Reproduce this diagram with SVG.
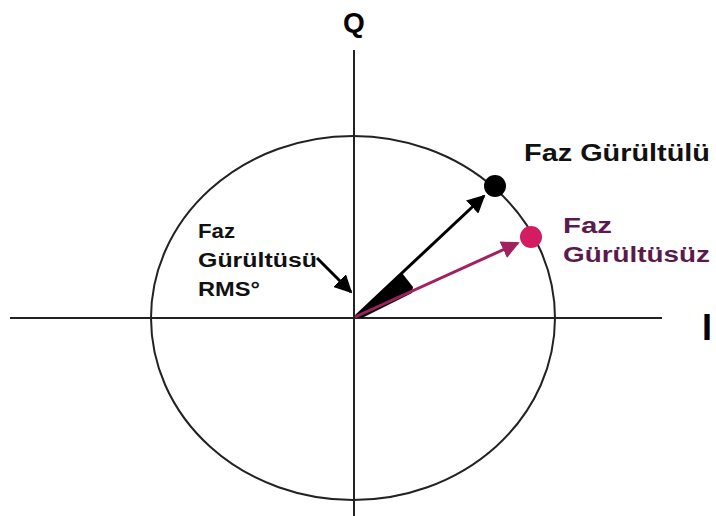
<svg xmlns="http://www.w3.org/2000/svg" width="716" height="516" viewBox="0 0 716 516">
<style>
.ax{stroke:#222;stroke-width:2;fill:none}
.t{font-family:"Liberation Sans",Arial,sans-serif;font-weight:bold}
</style>
<defs>
<marker id="ak" viewBox="0 0 10 10" refX="9" refY="5" markerWidth="6" markerHeight="6" orient="auto"><path d="M0,0 L10,5 L0,10 z" fill="#000"/></marker>
<marker id="ap" viewBox="0 0 10 10" refX="9" refY="5" markerWidth="6" markerHeight="6" orient="auto"><path d="M0,0 L10,5 L0,10 z" fill="#a3205f"/></marker>
</defs>
<rect width="716" height="516" fill="#fff"/>
<g id="axes">
<line class="ax" x1="354" y1="50" x2="354" y2="516"/>
<line class="ax" x1="10" y1="318" x2="662" y2="318"/>
<ellipse class="ax" cx="353" cy="318" rx="202" ry="182" stroke-width="2.8"/>
</g>
<g id="connectors">
<path d="M354,318 L402,273 L413,287 L412,293 L362,318 Z" fill="#000"/>
<line x1="355" y1="317" x2="484" y2="196" stroke="#000" stroke-width="3" marker-end="url(#ak)"/>
<line x1="355" y1="317" x2="518" y2="243" stroke="#a3205f" stroke-width="3" marker-end="url(#ap)"/>
<line x1="317" y1="258" x2="351" y2="292" stroke="#000" stroke-width="3" marker-end="url(#ak)"/>
</g>
<g id="noisy"><circle cx="495" cy="186" r="11" fill="#000"/></g>
<g id="clean"><circle cx="531" cy="237" r="11" fill="#d41c63"/></g>
<g id="labels">
<text class="t" x="354" y="32" font-size="28" text-anchor="middle">Q</text>
<text class="t" x="702" y="340" font-size="36">I</text>
<text class="t" x="524" y="161" font-size="24" fill="#111" textLength="186" lengthAdjust="spacingAndGlyphs">Faz Gürültülü</text>
<text class="t" x="563" y="233" font-size="22" fill="#5a1a4e" textLength="49" lengthAdjust="spacingAndGlyphs">Faz</text>
<text class="t" x="563" y="262" font-size="22" fill="#5a1a4e" textLength="147" lengthAdjust="spacingAndGlyphs">Gürültüsüz</text>
<text class="t" x="198" y="238" font-size="20" fill="#111" textLength="37" lengthAdjust="spacingAndGlyphs">Faz</text>
<text class="t" x="198" y="267" font-size="20" fill="#111" textLength="119" lengthAdjust="spacingAndGlyphs">Gürültüsü</text>
<text class="t" x="198" y="296" font-size="20" fill="#111" textLength="62" lengthAdjust="spacingAndGlyphs">RMS°</text>
</g>
</svg>
